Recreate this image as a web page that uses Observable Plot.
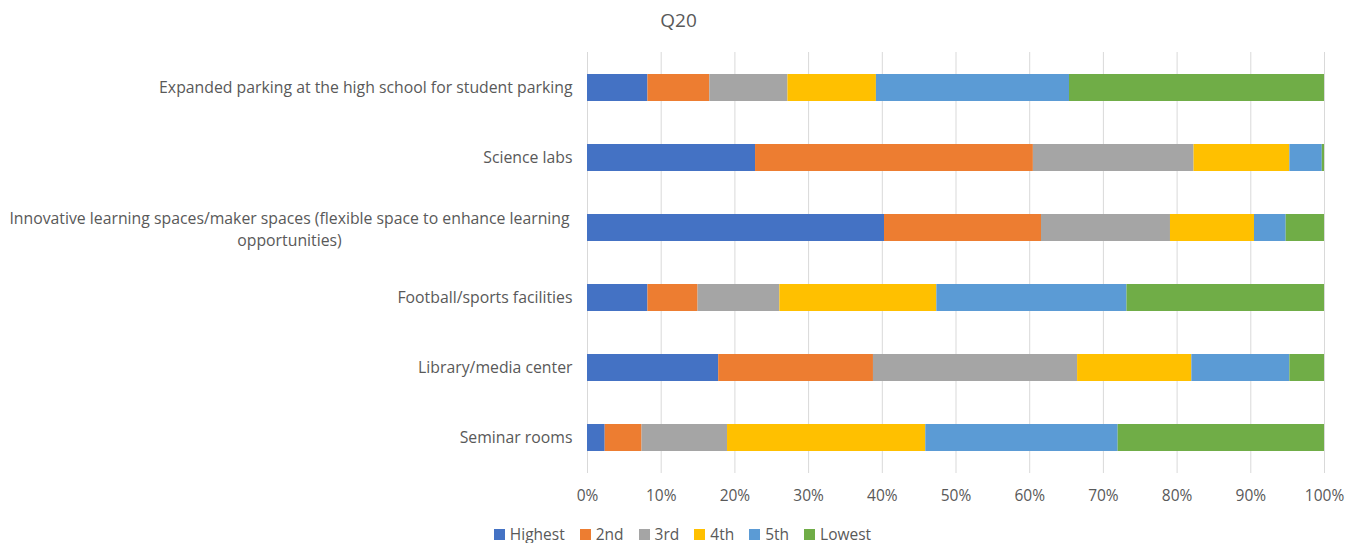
<!DOCTYPE html>
<html>
<head>
<meta charset="utf-8">
<script src="https://cdn.jsdelivr.net/npm/d3@7"></script>
<script src="https://cdn.jsdelivr.net/npm/@observablehq/plot@0.6"></script>
<style>
  html, body { margin: 0; padding: 0; background: #fff; }
  body { width: 1359px; height: 543px; overflow: hidden; font-family: "Open Sans", sans-serif; color: #595959; }
  #title { height: 40px; line-height: 40px; font-size: 19px; text-align: center; padding-right: 2px; }
  #legend { height: 33px; display: flex; justify-content: center; align-items: center; padding-top: 15px; box-sizing: border-box; font-size: 15.5px; padding-left: 6px; }
  #legend .item { display: flex; align-items: center; margin-right: 15px; }
  #legend .item:last-child { margin-right: 0; }
  #legend .sw { width: 11px; height: 11px; margin-right: 5px; }
</style>
</head>
<body>
<div id="title">Q20</div>
<div id="chart"></div>
<div id="legend"></div>
<script>
const categories = [
  "Expanded parking at the high school for student parking",
  "Science labs",
  "Innovative learning spaces/maker spaces (flexible space to enhance learning\nopportunities)",
  "Football/sports facilities",
  "Library/media center",
  "Seminar rooms"
];
const seriesNames = ["Highest", "2nd", "3rd", "4th", "5th", "Lowest"];
const seriesColors = ["#4472C4", "#ED7D31", "#A5A5A5", "#FFC000", "#5B9BD5", "#70AD47"];
const highest = [8.2, 22.8, 40.3, 8.2, 17.8, 2.4];
const second  = [8.4, 37.7, 21.3, 6.8, 21.0, 5.0];
const third   = [10.6, 21.8, 17.5, 11.1, 27.7, 11.6];
const fourth  = [12.0, 13.0, 11.4, 21.3, 15.5, 26.9];
const fifth   = [26.2, 4.4, 4.3, 25.8, 13.3, 26.1];
const lowest  = [34.6, 0.3, 5.2, 26.8, 4.7, 28.0];
const tickValues = [0, 10, 20, 30, 40, 50, 60, 70, 80, 90, 100];

const seriesValues = [highest, second, third, fourth, fifth, lowest];
const data = [];
seriesNames.forEach((s, si) => {
  categories.forEach((c, ci) => {
    data.push({category: c, series: s, value: seriesValues[si][ci]});
  });
});
const labels = categories.map(c => ({category: c, multi: c.includes("\n")}));

const plot = Plot.plot({
  width: 1359,
  height: 470,
  marginTop: 12,
  marginBottom: 37,
  marginLeft: 587,
  marginRight: 35,
  style: {fontFamily: "'Open Sans', sans-serif", color: "#595959", background: "#fff"},
  x: {domain: [0, 100], label: null},
  y: {domain: categories, paddingInner: 0.614, paddingOuter: 0.307, label: null, axis: null},
  color: {domain: seriesNames, range: seriesColors},
  marks: [
    Plot.gridX(tickValues, {stroke: "#d9d9d9", strokeOpacity: 1, strokeWidth: 1}),
    Plot.barX(data, Plot.stackX({y: "category", x: "value", fill: "series", order: seriesNames})),
    Plot.axisX({ticks: tickValues, tickSize: 0, tickPadding: 16, tickFormat: d => d + "%", fontSize: 15.5, label: null, fill: "#595959"}),
    Plot.text(labels.filter(d => !d.multi), {y: "category", text: "category", frameAnchor: "left", textAnchor: "end", dx: -15, fontSize: 15.8, fill: "#595959"}),
    Plot.text(labels.filter(d => d.multi), {y: "category", text: "category", frameAnchor: "left", textAnchor: "middle", dx: -298, fontSize: 15.8, lineHeight: 1.4, fill: "#595959"})
  ]
});
document.getElementById("chart").appendChild(plot);

const legend = document.getElementById("legend");
seriesNames.forEach((s, i) => {
  const item = document.createElement("div");
  item.className = "item";
  const sw = document.createElement("div");
  sw.className = "sw";
  sw.style.background = seriesColors[i];
  const t = document.createElement("span");
  t.textContent = s;
  item.appendChild(sw);
  item.appendChild(t);
  legend.appendChild(item);
});
</script>
</body>
</html>
